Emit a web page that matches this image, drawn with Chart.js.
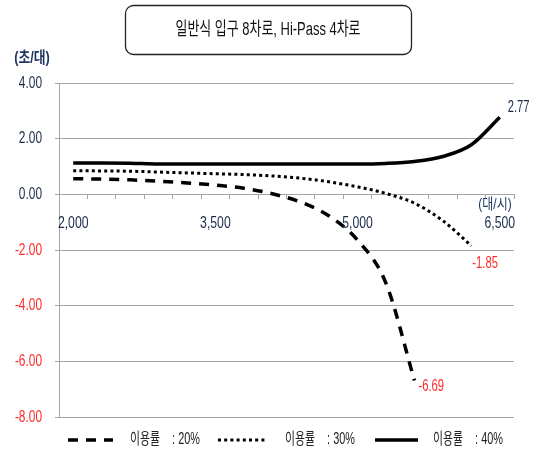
<!DOCTYPE html>
<html lang="ko">
<head>
<meta charset="utf-8">
<script src="https://cdn.jsdelivr.net/npm/chart.js@4.4.1/dist/chart.umd.min.js"></script>
<style>
  html, body { margin: 0; padding: 0; background: #fff; }
  #wrap { width: 533px; height: 450px; }
</style>
</head>
<body>
<div id="wrap"><canvas id="chart" width="533" height="450"></canvas></div>
<script>
const FONT = "'Liberation Sans', 'Noto Sans CJK KR', sans-serif";
const NAVY = "#1f3864";
const DARK = "#1b2a4a";
const RED = "#ff2a2a";

// chart data
const chartTitle = "일반식 입구 8차로, Hi-Pass 4차로";
const yUnit = "(초/대)";
const xUnit = "(대/시)";
const volumes = ["2,000", "2,300", "2,600", "2,900", "3,200", "3,500", "3,800", "4,100",
  "4,400", "4,700", "5,000", "5,300", "5,600", "5,900", "6,200", "6,500"];
const shownVolumes = ["2,000", "3,500", "5,000", "6,500"];
const yTicks = [-8, -6, -4, -2, 0, 2, 4];
const seriesNames = ["이용률    : 20%", "이용률    : 30%", "이용률    : 40%"];
const rate20 = [0.56, 0.55, 0.52, 0.47, 0.41, 0.33, 0.22, 0.02, -0.28, -0.78, -1.65, -3.2, -6.69];
const rate30 = [0.85, 0.84, 0.83, 0.8, 0.77, 0.74, 0.71, 0.66, 0.58, 0.45, 0.27, 0.03, -0.32, -0.95, -1.85];
const rate40 = [1.13, 1.13, 1.12, 1.09, 1.09, 1.09, 1.09, 1.09, 1.09, 1.09, 1.09, 1.11, 1.18, 1.36, 1.78, 2.77];

// the original uses a squeezed font, so text is drawn narrowed
function narrowText(ctx, text, x, y, font, color, align, sx) {
  ctx.save();
  ctx.translate(x, y);
  ctx.scale(sx, 1);
  ctx.font = font;
  ctx.fillStyle = color;
  ctx.textAlign = align;
  ctx.textBaseline = "middle";
  ctx.fillText(text, 0, 0);
  ctx.restore();
}

// Plugin: title box, tick labels, unit labels, end-point labels, legend
const decorations = {
  id: "decorations",
  afterDraw(chart) {
    const ctx = chart.ctx;
    const xs = chart.scales.x;
    const ys = chart.scales.y;
    ctx.save();

    // title box
    ctx.strokeStyle = "#222";
    ctx.lineWidth = 1.3;
    ctx.beginPath();
    ctx.roundRect(125.5, 5.5, 286, 49, 8);
    ctx.stroke();
    narrowText(ctx, chartTitle, 268, 30, "18px " + FONT, "#111", "center", 0.72);

    // tick labels
    yTicks.forEach((v) => {
      narrowText(ctx, v.toFixed(2), 42, ys.getPixelForValue(v), "17px " + FONT,
        v < 0 ? RED : DARK, "right", 0.7);
    });
    shownVolumes.forEach((lab) => {
      narrowText(ctx, lab, xs.getPixelForValue(volumes.indexOf(lab)), 223, "17px " + FONT,
        DARK, "center", 0.72);
    });

    // axis units
    narrowText(ctx, yUnit, 32, 59, "bold 16px " + FONT, NAVY, "center", 0.8);
    narrowText(ctx, xUnit, 495, 205, "15px " + FONT, NAVY, "center", 0.8);

    // last value of each series
    const offsets = [[4, 6], [1, 18], [8, -10]];
    chart.data.datasets.forEach((ds, i) => {
      const last = ds.data.length - 1;
      const p = chart.getDatasetMeta(i).data[last];
      const v = ds.data[last];
      narrowText(ctx, v.toFixed(2), p.x + offsets[i][0], p.y + offsets[i][1], "16px " + FONT,
        v < 0 ? RED : DARK, "left", 0.7);
    });

    // legend
    const legendX = [[68, 113, 130], [218, 265, 285], [375, 418, 433]];
    const ly = 440;
    chart.data.datasets.forEach((ds, i) => {
      const [x1, x2, tx] = legendX[i];
      ctx.strokeStyle = ds.borderColor;
      ctx.lineWidth = ds.borderWidth;
      ctx.setLineDash(ds.borderDash || []);
      ctx.beginPath();
      ctx.moveTo(x1, ly);
      ctx.lineTo(x2, ly);
      ctx.stroke();
      ctx.setLineDash([]);
      narrowText(ctx, ds.label, tx, ly, "16px " + FONT, "#222", "left", 0.68);
    });

    ctx.restore();
  }
};

new Chart(document.getElementById("chart"), {
  type: "line",
  data: {
    labels: volumes,
    datasets: [
      { label: seriesNames[0], data: rate20, borderColor: "#000", borderWidth: 3.5, borderDash: [10, 8] },
      { label: seriesNames[1], data: rate30, borderColor: "#000", borderWidth: 3, borderDash: [3, 3.2] },
      { label: seriesNames[2], data: rate40, borderColor: "#000", borderWidth: 3.5 },
    ],
  },
  options: {
    responsive: false,
    animation: false,
    devicePixelRatio: 1,
    layout: { padding: { left: 0, right: 19, top: 83, bottom: 33 } },
    elements: {
      point: { radius: 0 },
      line: { cubicInterpolationMode: "monotone", borderCapStyle: "butt" },
    },
    plugins: {
      legend: { display: false },
      tooltip: { enabled: false },
    },
    scales: {
      x: {
        type: "category",
        position: { y: 0 },
        offset: true,
        grid: {
          offset: true,
          drawOnChartArea: false,
          drawTicks: true,
          tickLength: 5,
          color: "#a6a6a6",
        },
        border: { display: false },
        ticks: { display: false, autoSkip: false },
      },
      y: {
        min: yTicks[0],
        max: yTicks[yTicks.length - 1],
        afterFit: (scale) => { scale.width = 59; },
        afterBuildTicks: (scale) => { scale.ticks = yTicks.map((v) => ({ value: v })); },
        grid: { color: "#a6a6a6", lineWidth: 1, tickLength: 4 },
        border: { color: "#a6a6a6" },
        ticks: { display: false },
      },
    },
  },
  plugins: [decorations],
});
</script>
</body>
</html>
